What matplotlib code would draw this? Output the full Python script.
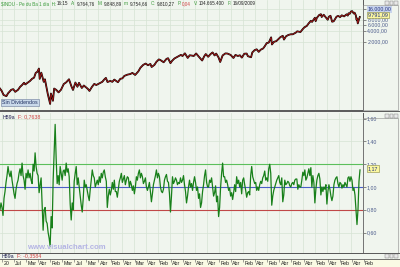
import matplotlib
matplotlib.use("Agg")
import matplotlib.pyplot as plt
import numpy as np
from matplotlib.patches import Rectangle

plt.rcParams["font.family"] = ["Liberation Sans", "DejaVu Sans"]

# ---- data ----
price_years = [1920.0, 1920.4, 1920.9, 1921.6, 1922.0, 1922.8, 1923.3, 1923.8, 1924.5, 1925.0,
               1925.5, 1926.0, 1926.3, 1927.0, 1927.5, 1928.0, 1928.5, 1928.9, 1929.3, 1929.7,
               1929.9, 1930.3, 1930.9, 1931.2, 1931.9, 1932.5, 1932.7, 1933.2, 1933.5, 1934.0,
               1934.6, 1935.2, 1935.9, 1936.5, 1937.2, 1937.8, 1938.2, 1938.8, 1939.3, 1939.7,
               1940.4, 1940.9, 1941.9, 1942.3, 1942.9, 1943.5, 1944.0, 1944.9, 1945.5, 1946.0,
               1946.4, 1946.8, 1947.5, 1948.0, 1948.5, 1949.4, 1950.0, 1950.5, 1951.0, 1951.8,
               1952.5, 1953.0, 1953.7, 1954.5, 1955.0, 1955.7, 1956.3, 1956.9, 1957.5, 1957.8,
               1958.5, 1959.0, 1959.6, 1960.0, 1960.8, 1961.5, 1961.9, 1962.5, 1962.9, 1963.5,
               1964.0, 1964.6, 1965.1, 1965.5, 1966.1, 1966.8, 1967.3, 1967.9, 1968.3, 1968.9,
               1969.5, 1970.4, 1970.9, 1971.3, 1971.9, 1972.5, 1973.0, 1973.5, 1973.9, 1974.5,
               1974.9, 1975.5, 1976.2, 1976.7, 1977.5, 1978.2, 1978.7, 1979.3, 1979.8, 1980.3,
               1980.9, 1981.5, 1981.8, 1982.6, 1982.9, 1983.5, 1984.0, 1984.5, 1985.0, 1985.6,
               1986.0, 1986.5, 1987.0, 1987.6, 1987.8, 1988.3, 1988.9, 1989.5, 1989.9, 1990.5,
               1990.8, 1991.3, 1991.9, 1992.5, 1993.0, 1993.8, 1994.1, 1994.9, 1995.5, 1995.9,
               1996.5, 1996.9, 1997.5, 1997.8, 1998.5, 1998.7, 1999.0, 1999.6, 1999.9, 2000.0,
               2000.2, 2000.7, 2001.3, 2001.7, 2002.0, 2002.4, 2002.8, 2003.2, 2003.9, 2004.3,
               2004.8, 2005.2, 2005.8, 2006.4, 2006.7, 2006.9, 2007.2, 2007.5, 2007.8, 2008.2,
               2008.4, 2008.7, 2008.9, 2009.0, 2009.2, 2009.5, 2009.7]
price_values = [108, 94, 72, 67, 80, 100, 104, 88, 100, 120,
                135, 156, 140, 160, 175, 200, 215, 290, 310, 381,
                199, 294, 165, 194, 78, 41, 79, 50, 108, 100,
                85, 100, 144, 160, 194, 125, 99, 158, 121, 155,
                112, 131, 106, 93, 119, 145, 135, 152, 165, 192,
                212, 163, 175, 165, 190, 161, 200, 205, 240, 260,
                270, 290, 255, 320, 400, 480, 521, 470, 510, 420,
                480, 583, 678, 650, 566, 700, 731, 535, 620, 720,
                770, 840, 900, 840, 995, 744, 880, 860, 840, 985,
                820, 631, 820, 950, 800, 950, 1051, 870, 980, 760,
                577, 870, 990, 980, 900, 742, 900, 840, 880, 759,
                970, 980, 830, 777, 1050, 1220, 1280, 1090, 1250, 1350,
                1550, 1900, 1950, 2722, 1738, 2050, 2150, 2500, 2750, 2999,
                2365, 2900, 3168, 3300, 3300, 3700, 3980, 3800, 4600, 5117,
                5600, 6448, 7700, 7200, 9337, 7539, 9300, 11200, 11497, 11722,
                9800, 11300, 9400, 8235, 10000, 10600, 7286, 7500, 10000, 10500,
                9750, 10900, 10200, 11600, 10700, 12400, 12000, 13900, 14164, 12200,
                12900, 11000, 8200, 9000, 6547, 8500, 9791]

# oscillator, one value per quarter from 1920.0
osc_start = 1920.0
osc_values = [
    0.80, 0.86, 0.82, 0.75, 0.90, 0.96, 1.04, 1.10, 1.18, 1.12, 1.09, 1.14,  # 1920-22
    1.06, 1.00, 0.94, 0.90, 0.98, 1.03, 1.06, 1.12, 1.16, 1.10, 1.21, 1.10,  # 1923-25
    1.06, 0.98, 1.12, 1.08, 1.15, 1.08, 1.12, 1.06, 1.03, 1.20, 1.14, 1.30,  # 1926-28
    1.18, 1.12, 1.10, 0.95, 1.02, 1.08, 0.86, 0.62, 0.80, 0.82, 0.70, 0.68,  # 1929-31
    0.60, 0.55, 0.48, 0.74, 0.64, 1.06, 1.30, 1.55, 1.25, 1.03, 1.10, 1.02,  # 1932-34
    1.18, 1.12, 1.06, 1.14, 1.15, 1.10, 1.21, 1.13, 1.16, 1.09, 0.85, 0.71,  # 1935-37
    0.86, 0.80, 1.05, 1.12, 1.18, 1.02, 1.08, 1.00, 0.92, 0.84, 0.78, 0.90,  # 1938-40
    1.06, 1.00, 1.02, 0.97, 0.92, 0.88, 0.98, 1.06, 1.15, 1.10, 1.08, 1.00,  # 1941-43
    1.03, 1.06, 1.02, 1.09, 1.04, 1.12, 1.08, 1.13, 1.15, 1.09, 1.05, 0.82,  # 1944-46
    0.92, 0.98, 0.93, 0.97, 1.04, 0.98, 1.06, 0.96, 0.96, 0.91, 0.98, 1.05,  # 1947-49
    1.08, 1.12, 1.04, 1.07, 1.10, 1.02, 1.06, 1.09, 1.08, 1.00, 1.05, 1.02,  # 1950-52
    0.97, 1.01, 0.94, 1.00, 1.09, 1.06, 1.12, 1.15, 1.08, 1.12, 1.09, 1.03,  # 1953-55
    1.05, 1.08, 1.00, 0.97, 1.00, 1.04, 0.96, 0.87, 0.94, 1.02, 1.06, 1.10,  # 1956-58
    1.15, 1.08, 1.12, 1.09, 1.00, 0.96, 0.95, 0.98, 1.06, 1.09, 1.11, 1.05,  # 1959-61
    1.04, 0.94, 0.78, 0.92, 1.09, 1.03, 1.05, 1.08, 1.06, 1.02, 1.04, 1.03,  # 1962-64
    1.08, 1.04, 1.06, 1.10, 1.02, 0.96, 0.86, 0.92, 1.00, 1.06, 1.00, 1.03,  # 1965-67
    0.97, 1.04, 1.09, 1.04, 0.97, 1.00, 0.90, 0.94, 0.82, 0.86, 0.96, 1.02,  # 1968-70
    1.10, 1.15, 1.04, 1.00, 1.00, 1.06, 1.04, 1.08, 1.00, 0.92, 0.95, 1.01,  # 1971-73
    0.87, 0.92, 0.74, 0.82, 1.00, 1.12, 1.21, 1.09, 1.09, 1.04, 1.06, 1.02,  # 1974-76
    0.97, 0.99, 0.92, 0.95, 0.89, 0.95, 1.02, 0.96, 1.09, 1.03, 1.06, 1.00,  # 1977-79
    1.04, 0.94, 1.06, 1.08, 1.02, 0.97, 0.91, 0.95, 0.96, 0.93, 1.10, 1.18,  # 1980-82
    1.09, 1.06, 1.03, 1.04, 0.97, 1.00, 0.97, 1.02, 1.05, 1.03, 1.08, 1.10,  # 1983-85
    1.14, 1.06, 1.08, 1.05, 1.16, 1.20, 1.12, 0.84, 0.92, 0.97, 1.00, 1.03,  # 1986-88
    1.06, 1.08, 1.10, 1.04, 1.02, 1.08, 0.87, 0.93, 1.06, 1.02, 1.03, 1.05,  # 1989-91
    1.04, 1.01, 1.00, 1.03, 1.04, 1.02, 1.06, 1.07, 1.07, 0.98, 1.02, 1.00,  # 1992-94
    1.00, 1.06, 1.13, 1.10, 1.15, 1.06, 1.08, 1.12, 1.16, 1.10, 1.17, 1.00,  # 1995-97
    1.10, 1.04, 0.86, 0.98, 1.06, 1.10, 1.12, 1.07, 0.93, 1.00, 0.96, 1.00,  # 1998-00
    0.98, 1.02, 0.85, 0.96, 1.02, 0.98, 0.92, 0.88, 0.92, 1.02, 1.06, 1.08,  # 2001-03
    1.09, 1.03, 1.00, 1.04, 1.03, 0.99, 1.02, 1.00, 1.04, 1.02, 1.00, 1.08,  # 2004-06
    1.09, 1.05, 1.09, 1.06, 0.97, 0.99, 0.93, 0.80, 0.67, 0.80, 1.05, 1.15,  # 2007-09
]
osc_years = osc_start + 0.25 * np.arange(len(osc_values))

price_ticks = [2000, 4000, 6000, 8000]
price_tick_labels = ["2.000,00", "4.000,00", "6.000,00", "8.000,00"]
osc_ticks = [0.6, 0.8, 1.0, 1.2, 1.4, 1.6]
osc_tick_labels = ["0,60", "0,80", "1,00", "1,20", "1,40", "1,60"]
date_ticks = [1920.5 + 3 * i for i in range(31)]
date_labels = ["20", "Jul", "Mar", "Abr", "Feb", "Mar", "Jul", "Mar", "Abr", "Feb",
               "Abr", "Mar", "Abr", "Feb", "Abr", "Abr", "Abr", "Abr", "Feb", "Abr",
               "Feb", "Abr", "Feb", "Abr", "Feb", "Abr", "Feb", "Abr", "Feb", "Abr", "Feb"]

BG = "#f0f5ee"
GRID = "#d6e3d3"
EDGE = "#5a5a5a"
TICKC = "#4a5a8a"
W, H = 400, 267
X0, X1 = 1920.0, 2010.3
FS = 3.8


def px_rect(x0, y0, x1, y1):
    return [x0 / W, 1 - y1 / H, (x1 - x0) / W, (y1 - y0) / H]


def style_panel(ax):
    ax.set_facecolor(BG)
    ax.set_xlim(X0, X1)
    ax.set_xticks(date_ticks)
    ax.tick_params(axis="x", length=0, labelbottom=False)
    ax.yaxis.tick_right()
    ax.tick_params(axis="y", direction="out", length=2, width=0.5, pad=0.5,
                   colors=EDGE, labelcolor=TICKC, labelsize=FS)
    ax.grid(True, color=GRID, linewidth=0.5)
    ax.set_axisbelow(True)
    for side in ["left", "top"]:
        ax.spines[side].set_visible(False)
    for side in ["right", "bottom"]:
        ax.spines[side].set_color(EDGE)
        ax.spines[side].set_linewidth(0.7)


def box_label(ax, y, txt, face, edge="none"):
    ax.text(1.012, y, txt, transform=ax.get_yaxis_transform(), fontsize=FS,
            color="#203080", va="center", ha="left",
            bbox=dict(boxstyle="square,pad=0.15", facecolor=face, edgecolor=edge,
                      linewidth=0.4))


def buttons(fig, x, y):
    for i in range(3):
        fig.add_artist(Rectangle(((x + i * 4.5) / W, 1 - (y + 4) / H), 3.5 / W, 3.5 / H,
                                 transform=fig.transFigure, facecolor="#e8e8e8",
                                 edgecolor="#777777", linewidth=0.3))


fig = plt.figure(figsize=(W / 100, H / 100), dpi=100)
fig.patch.set_facecolor(BG)

# ---- price panel ----
ax1 = fig.add_axes(px_rect(0, 0, 363, 110))
style_panel(ax1)
ax1.set_yscale("log")
ax1.set_ylim(28, 28600)
ax1.yaxis.set_major_locator(plt.FixedLocator(price_ticks + [16000]))
ax1.yaxis.set_minor_locator(plt.NullLocator())
ax1.yaxis.set_major_formatter(plt.NullFormatter())
ax1.yaxis.set_minor_formatter(plt.NullFormatter())
ax1.plot(price_years, price_values, color="black", linewidth=1.3)
ax1.plot(price_years, price_values, color="#a81818", linewidth=0.6)
for val, lab in zip(price_ticks, price_tick_labels):
    ax1.text(1.012, val, lab, transform=ax1.get_yaxis_transform(), fontsize=FS,
             color=TICKC, va="center", ha="left")
box_label(ax1, 16000, "16.000,00", "#c8d4ec")
box_label(ax1, price_values[-1] * 1.15, "9.791,09", "#fbf7a0", "#8a8a40")
ax1.text(0.006, 0.07, "Sin Dividendos", transform=ax1.transAxes, fontsize=FS,
         color="#203060", va="center", ha="left",
         bbox=dict(boxstyle="square,pad=0.2", facecolor="#c9d9ea", edgecolor="#6a7a9a",
                   linewidth=0.4))

# ---- oscillator panel ----
ax2 = fig.add_axes(px_rect(0, 113, 363, 253))
style_panel(ax2)
ax2.set_ylim(0.42, 1.65)
ax2.set_yticks(osc_ticks)
ax2.set_yticklabels(osc_tick_labels)
ax2.axhline(1.2, color="#5cbf5c", linewidth=0.8)
ax2.axhline(1.0, color="#4a5ec8", linewidth=0.8)
ax2.axhline(0.8, color="#c04848", linewidth=0.8)
ax2.plot(osc_years, osc_values, color="#18801a", linewidth=0.9)
box_label(ax2, 1.16, "1,17", "#fbf7a0", "#8a8a40")
ax2.text(0.006, 0.97, "H89a", transform=ax2.transAxes, fontsize=FS, color="#202050",
         va="center", ha="left")
ax2.text(0.05, 0.97, "F: 0,7638", transform=ax2.transAxes, fontsize=FS, color="#d04040",
         va="center", ha="left")
ax2.text(0.075, 0.04, "www.visualchart.com", transform=ax2.transAxes, fontsize=5.6,
         color="#b4b4e4", fontweight="bold", va="center", ha="left")

# ---- collapsed third panel and date strip ----
fig.add_artist(plt.Line2D([0, 1], [1 - 253 / H, 1 - 253 / H], color=EDGE, linewidth=0.7))
fig.text(2 / W, 1 - 256 / H, "H89a", fontsize=FS, color="#202050", va="center")
fig.text(17 / W, 1 - 256 / H, "F: -0,3584", fontsize=FS, color="#d04040", va="center")

ax3 = fig.add_axes(px_rect(0, 259, 400, 267))
ax3.set_facecolor("#fafae4")
ax3.set_xlim(X0, X0 + (X1 - X0) * 400 / 363)
ax3.set_ylim(0, 1)
ax3.set_xticks(date_ticks)
ax3.set_xticklabels([])
ax3.set_yticks([])
ax3.tick_params(axis="x", direction="in", top=True, bottom=False, length=2, width=0.4,
                colors=EDGE)
for side in ax3.spines:
    ax3.spines[side].set_visible(False)
ax3.spines["top"].set_visible(True)
ax3.spines["top"].set_color(EDGE)
ax3.spines["top"].set_linewidth(0.6)
for tx, lab in zip(date_ticks, date_labels):
    ax3.text(tx + 0.3, 0.45, lab, fontsize=FS, color="#202020", va="center", ha="left")

# ---- right-hand axis boxes and window buttons ----
fig.add_artist(Rectangle((363 / W, 1 - 110 / H), 35 / W, 105 / H, transform=fig.transFigure,
                         facecolor="none", edgecolor="#8a8a8a", linewidth=0.4))
fig.add_artist(Rectangle((363 / W, 1 - 253 / H), 35 / W, 135 / H, transform=fig.transFigure,
                         facecolor="none", edgecolor="#8a8a8a", linewidth=0.4))
fig.add_artist(plt.Line2D([0, 1], [1 - 111 / H, 1 - 111 / H], color=EDGE, linewidth=0.7))
buttons(fig, 385, 0.5)
buttons(fig, 385, 113.5)
buttons(fig, 385, 253.5)

# ---- header line, pieces chained left to right ----
header = [
    ("$INDU - Pe du Ba 1 dia  H:", "#3a9a3a"), ("16:15", "#202020"),
    ("A:", "#3a9a3a"), ("9.764,76", "#202020"),
    ("M:", "#3a9a3a"), ("9.848,89", "#202020"),
    ("m:", "#3a9a3a"), ("9.754,66", "#202020"),
    ("C:", "#3a9a3a"), ("9.810,27", "#202020"),
    ("P:", "#3a9a3a"), ("0,04", "#d04040"),
    ("V:", "#3a9a3a"), ("104.665.400", "#202020"),
    ("F:", "#3a9a3a"), ("16/09/2009", "#202020"),
]
renderer = fig.canvas.get_renderer()
hx = 1.0
for i, (txt, col) in enumerate(header):
    t = fig.text(hx / W, 1 - 3.5 / H, txt, fontsize=3.3, color=col, va="center", ha="left")
    width = t.get_window_extent(renderer).width
    hx += width + (1.0 if i % 2 == 0 else 2.5)

fig.savefig("out.png", dpi=100, facecolor=BG)
